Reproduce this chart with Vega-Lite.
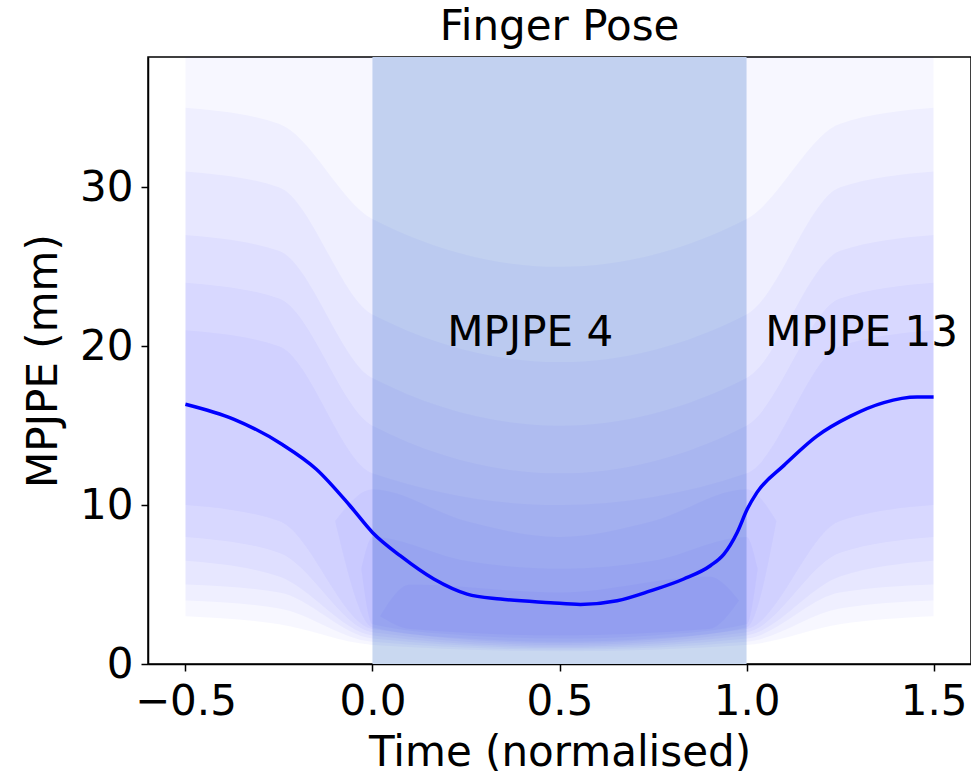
{
  "$schema": "https://vega.github.io/schema/vega-lite/v6.json",
  "width": 823,
  "height": 607,
  "padding": {"left": 22, "top": 6, "right": 0, "bottom": 0},
  "config": {
    "font": "DejaVu Sans",
    "view": {"stroke": "black", "strokeWidth": 1.5},
    "axis": {
      "domainColor": "black", "domainWidth": 1.5, "tickColor": "black", "tickWidth": 1.5, "tickSize": 7,
      "labelFontSize": 42, "labelColor": "black", "titleFontSize": 42, "titleColor": "black", "titleFontWeight": "normal",
      "grid": false, "labelPadding": 8
    }
  },
  "title": {"text": "Finger Pose", "fontSize": 42, "fontWeight": "normal", "color": "black", "offset": 8},
  "datasets": {
    "shade": [{"x0": 0, "x1": 1}],
    "bands": [
      {"band": "s1", "t": -0.5, "lo": 3, "hi": 38.2},
      {"band": "s1", "t": -0.25, "lo": 2.5, "hi": 38.2},
      {"band": "s1", "t": 0, "lo": 1.2, "hi": 38.2},
      {"band": "s1", "t": 0.5, "lo": 0.8, "hi": 38.2},
      {"band": "s1", "t": 1, "lo": 1.2, "hi": 38.2},
      {"band": "s1", "t": 1.25, "lo": 2.5, "hi": 38.2},
      {"band": "s1", "t": 1.5, "lo": 3, "hi": 38.2},
      {"band": "s2", "t": -0.5, "lo": 4, "hi": 35},
      {"band": "s2", "t": -0.25, "lo": 3.5, "hi": 34},
      {"band": "s2", "t": 0, "lo": 1.4, "hi": 28},
      {"band": "s2", "t": 0.5, "lo": 0.9, "hi": 25},
      {"band": "s2", "t": 1, "lo": 1.4, "hi": 28},
      {"band": "s2", "t": 1.25, "lo": 3.5, "hi": 34},
      {"band": "s2", "t": 1.5, "lo": 4, "hi": 35},
      {"band": "s3", "t": -0.5, "lo": 5, "hi": 31},
      {"band": "s3", "t": -0.25, "lo": 4.5, "hi": 30},
      {"band": "s3", "t": 0, "lo": 1.6, "hi": 22},
      {"band": "s3", "t": 0.5, "lo": 1.0, "hi": 19},
      {"band": "s3", "t": 1, "lo": 1.6, "hi": 22},
      {"band": "s3", "t": 1.25, "lo": 4.5, "hi": 30},
      {"band": "s3", "t": 1.5, "lo": 5, "hi": 31},
      {"band": "s4", "t": -0.5, "lo": 6.5, "hi": 27},
      {"band": "s4", "t": -0.25, "lo": 5.5, "hi": 26},
      {"band": "s4", "t": 0, "lo": 1.8, "hi": 18},
      {"band": "s4", "t": 0.5, "lo": 1.1, "hi": 15},
      {"band": "s4", "t": 1, "lo": 1.8, "hi": 18},
      {"band": "s4", "t": 1.25, "lo": 5.5, "hi": 26},
      {"band": "s4", "t": 1.5, "lo": 6.5, "hi": 27},
      {"band": "s5", "t": -0.5, "lo": 8, "hi": 24},
      {"band": "s5", "t": -0.25, "lo": 7, "hi": 23},
      {"band": "s5", "t": 0, "lo": 2, "hi": 15},
      {"band": "s5", "t": 0.5, "lo": 1.2, "hi": 12},
      {"band": "s5", "t": 1, "lo": 2, "hi": 15},
      {"band": "s5", "t": 1.25, "lo": 7, "hi": 23},
      {"band": "s5", "t": 1.5, "lo": 8, "hi": 24},
      {"band": "s6", "t": -0.5, "lo": 10, "hi": 21},
      {"band": "s6", "t": -0.25, "lo": 9, "hi": 20},
      {"band": "s6", "t": 0, "lo": 2.2, "hi": 12},
      {"band": "s6", "t": 0.5, "lo": 1.3, "hi": 10},
      {"band": "s6", "t": 1, "lo": 2.2, "hi": 12},
      {"band": "s6", "t": 1.25, "lo": 9, "hi": 20},
      {"band": "s6", "t": 1.5, "lo": 10, "hi": 21},
      {"band": "c1", "t": -0.1, "lo": 9, "hi": 9},
      {"band": "c1", "t": 0, "lo": 2.3, "hi": 11},
      {"band": "c1", "t": 0.25, "lo": 1.6, "hi": 9},
      {"band": "c1", "t": 0.5, "lo": 1.4, "hi": 8},
      {"band": "c1", "t": 0.75, "lo": 1.6, "hi": 9},
      {"band": "c1", "t": 1.0, "lo": 2.3, "hi": 11},
      {"band": "c1", "t": 1.08, "lo": 9, "hi": 9},
      {"band": "c2", "t": -0.03, "lo": 6, "hi": 6},
      {"band": "c2", "t": 0, "lo": 2.5, "hi": 8},
      {"band": "c2", "t": 0.25, "lo": 1.8, "hi": 6.5},
      {"band": "c2", "t": 0.5, "lo": 1.6, "hi": 6},
      {"band": "c2", "t": 0.75, "lo": 1.8, "hi": 6.5},
      {"band": "c2", "t": 1.0, "lo": 2.5, "hi": 8},
      {"band": "c2", "t": 1.03, "lo": 6, "hi": 6},
      {"band": "c3", "t": 0.02, "lo": 3, "hi": 3},
      {"band": "c3", "t": 0.1, "lo": 2.2, "hi": 5},
      {"band": "c3", "t": 0.5, "lo": 1.8, "hi": 4.5},
      {"band": "c3", "t": 0.9, "lo": 2.2, "hi": 5.5},
      {"band": "c3", "t": 0.98, "lo": 4, "hi": 4}
    ],
    "mean": [
      {"t": -0.5, "e": 16.35},
      {"t": -0.37, "e": 15.4},
      {"t": -0.24, "e": 13.8},
      {"t": -0.15, "e": 12.26},
      {"t": -0.06, "e": 9.96},
      {"t": 0.0, "e": 8.28},
      {"t": 0.075, "e": 6.8},
      {"t": 0.164, "e": 5.35},
      {"t": 0.253, "e": 4.4},
      {"t": 0.342, "e": 4.09},
      {"t": 0.476, "e": 3.86},
      {"t": 0.556, "e": 3.75},
      {"t": 0.654, "e": 3.98},
      {"t": 0.743, "e": 4.6},
      {"t": 0.832, "e": 5.35},
      {"t": 0.904, "e": 6.2},
      {"t": 0.939, "e": 6.9},
      {"t": 0.975, "e": 8.28},
      {"t": 1.002, "e": 9.75},
      {"t": 1.028, "e": 10.8},
      {"t": 1.1, "e": 12.5},
      {"t": 1.189, "e": 14.36},
      {"t": 1.278, "e": 15.6},
      {"t": 1.367, "e": 16.45},
      {"t": 1.456, "e": 16.8},
      {"t": 1.5, "e": 16.8}
    ],
    "labels": [
      {"t": 0.2, "e": 20, "label": "MPJPE 4"},
      {"t": 1.05, "e": 20, "label": "MPJPE 13"}
    ]
  },
  "layer": [
    {
      "data": {"name": "shade"},
      "mark": {"type": "rect", "color": "#c9d8f0"},
      "encoding": {
        "x": {"field": "x0", "type": "quantitative", "scale": {"domain": [-0.6, 1.6], "nice": false, "zero": false},
              "axis": {"values": [-0.5, 0, 0.5, 1, 1.5], "format": ".1f", "title": "Time (normalised)", "labelPadding": 10, "titlePadding": 10}},
        "x2": {"field": "x1"},
        "y": {"datum": 0, "type": "quantitative", "scale": {"domain": [0, 38.2], "nice": false},
              "axis": {"values": [0, 10, 20, 30], "title": "MPJPE (mm)", "titlePadding": 14}},
        "y2": {"datum": 38.2}
      }
    },
    {
      "data": {"name": "bands"},
      "mark": {"type": "area", "color": "#0000ff", "interpolate": "monotone"},
      "encoding": {
        "x": {"field": "t", "type": "quantitative"},
        "y": {"field": "lo", "type": "quantitative"},
        "y2": {"field": "hi"},
        "detail": {"field": "band"},
        "opacity": {"field": "band", "type": "nominal", "scale": {"domain": ["s1", "s2", "s3", "s4", "s5", "s6", "c1", "c2", "c3"], "range": [0.03, 0.03, 0.03, 0.03, 0.03, 0.03, 0.09, 0.1, 0.12]}, "legend": null}
      }
    },
    {
      "data": {"name": "mean"},
      "mark": {"type": "line", "color": "#0000ff", "strokeWidth": 3.5, "interpolate": "monotone"},
      "encoding": {
        "x": {"field": "t", "type": "quantitative"},
        "y": {"field": "e", "type": "quantitative"}
      }
    },
    {
      "data": {"name": "labels"},
      "mark": {"type": "text", "align": "left", "baseline": "alphabetic", "fontSize": 42, "color": "black"},
      "encoding": {
        "x": {"field": "t", "type": "quantitative"},
        "y": {"field": "e", "type": "quantitative"},
        "text": {"field": "label"}
      }
    }
  ]
}
